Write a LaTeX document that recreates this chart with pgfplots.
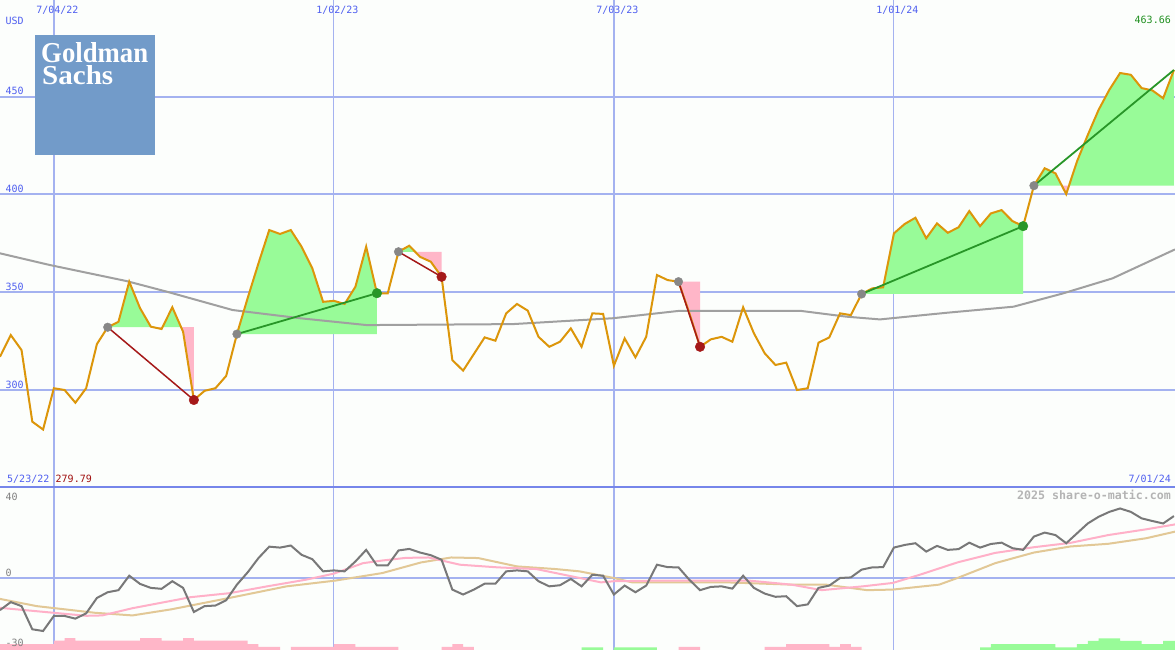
\documentclass[border=0pt]{standalone}
\usepackage{graphicx}
\usepackage{fontspec}
\setmainfont{DejaVu Sans Mono}
\newfontfamily\logofont{Liberation Serif}
\usepackage{pgfplots}
\usepackage{pgfplotstable}
\pgfplotsset{compat=1.18}
\usepgfplotslibrary{fillbetween}
\newcommand\lab{\fontsize{10bp}{12bp}\selectfont}
\definecolor{bgcol}{RGB}{252,254,252}
\definecolor{gridblue}{RGB}{164,178,240}
\definecolor{sepblue}{RGB}{118,134,234}
\definecolor{labblue}{RGB}{80,96,240}
\definecolor{orangec}{RGB}{220,150,10}
\definecolor{magray}{RGB}{160,160,160}
\definecolor{tgreen}{RGB}{152,251,152}
\definecolor{tpink}{RGB}{255,182,200}
\definecolor{dkgreen}{RGB}{40,150,40}
\definecolor{dkred}{RGB}{165,25,25}
\definecolor{dotgray}{RGB}{135,135,135}
\definecolor{oscgray}{RGB}{120,120,120}
\definecolor{oscpink}{RGB}{255,176,200}
\definecolor{osctan}{RGB}{226,200,150}
\definecolor{tickgray}{RGB}{128,128,128}
\definecolor{wmgray}{RGB}{180,180,180}
\definecolor{logoblue}{RGB}{114,155,201}
\definecolor{txtgreen}{RGB}{32,144,32}
\definecolor{txtred}{RGB}{160,16,16}

\pgfplotstableread{
i p
0 317.0
1 328.1
2 320.4
3 283.8
4 279.79
5 300.9
6 300.0
7 293.5
8 300.9
9 323.5
10 332.1
11 334.9
12 355.4
13 341.9
14 332.4
15 331.2
16 342.3
17 329.8
18 294.9
19 299.6
20 300.9
21 307.2
22 328.6
23 347.1
24 364.8
25 381.8
26 379.8
27 381.8
28 373.3
29 362.2
30 345.1
31 345.6
32 344.0
33 352.8
34 373.3
35 349.5
36 349.4
37 370.7
38 373.8
39 368.1
40 365.6
41 357.9
42 315.3
43 309.9
44 318.4
45 326.9
46 325.2
47 339.2
48 344.0
49 340.6
50 327.2
51 322.1
52 324.7
53 331.5
54 322.1
55 339.2
56 338.9
57 312.4
58 326.4
59 316.7
60 327.2
61 358.8
62 356.2
63 355.4
64 339.4
65 322.1
66 325.9
67 327.2
68 324.7
69 342.3
70 329.0
71 318.8
72 312.8
73 314.0
74 300.0
75 300.9
76 324.2
77 326.9
78 339.2
79 338.3
80 349.1
81 352.0
82 352.5
83 380.1
84 384.9
85 388.1
86 377.6
87 385.2
88 380.4
89 383.2
90 391.5
91 383.8
92 390.3
93 392.0
94 386.4
95 383.8
96 404.5
97 413.4
98 410.8
99 400.2
100 416.9
101 430.4
102 443.2
103 453.5
104 462.1
105 461.2
106 454.4
107 453.2
108 449.2
109 463.66
}\pricetab

\pgfplotstableread{
i v
0 -16.9
1 -12.7
2 -14.8
3 -27.0
4 -27.9
5 -20.0
6 -20.0
7 -21.4
8 -18.6
9 -10.5
10 -7.5
11 -6.4
12 1.2
13 -3.1
14 -5.2
15 -5.7
16 -1.7
17 -5.2
18 -17.9
19 -14.8
20 -14.5
21 -11.7
22 -3.5
23 3.0
24 10.5
25 16.5
26 16.0
27 17.1
28 12.2
29 9.9
30 3.5
31 4.0
32 3.5
33 8.7
34 14.8
35 6.6
36 6.6
37 14.5
38 15.3
39 13.4
40 12.0
41 9.6
42 -6.1
43 -8.7
44 -6.1
45 -3.0
46 -3.0
47 3.5
48 4.0
49 3.5
50 -1.7
51 -4.4
52 -3.8
53 -0.5
54 -4.4
55 1.7
56 1.2
57 -8.7
58 -4.0
59 -7.5
60 -4.0
61 7.0
62 5.7
63 5.6
64 -0.9
65 -6.4
66 -4.7
67 -4.4
68 -5.6
69 1.2
70 -5.2
71 -8.2
72 -9.9
73 -9.6
74 -14.8
75 -13.9
76 -5.2
77 -4.0
78 0.0
79 0.3
80 4.4
81 5.6
82 5.7
83 16.0
84 17.4
85 18.3
86 13.9
87 16.9
88 14.8
89 15.2
90 18.6
91 16.0
92 17.9
93 18.6
94 15.7
95 14.8
96 21.8
97 23.9
98 22.6
99 18.3
100 23.5
101 28.7
102 32.2
103 34.8
104 36.6
105 34.8
106 31.4
107 30.0
108 28.7
109 32.6
}\osctab

\pgfplotsset{
  panel/.style={
    set layers,
    scale only axis, width=1175bp,
    xmin=0, xmax=109.1,
    axis background/.style={fill=bgcol},
    axis line style={draw=none}, tick style={draw=none},
    xtick={5,31,57,83},
    major grid style={gridblue, line width=2bp},
  }
}
% vertical date lines (decoration), drawn on the grid layer
\newcommand\vlines[2]{%
  \begin{pgfonlayer}{axis grid}
  \draw[gridblue, line width=2bp] (axis cs:5,#1) -- (axis cs:5,#2);
  \draw[gridblue, line width=2bp] (axis cs:57,#1) -- (axis cs:57,#2);
  \draw[gridblue, line width=1bp] (axis cs:31,#1) -- (axis cs:31,#2);
  \draw[gridblue, line width=1bp] (axis cs:83,#1) -- (axis cs:83,#2);
  \end{pgfonlayer}}

\begin{document}
\begin{tikzpicture}

% ---------------- lower panel ----------------
\begin{axis}[panel,
  at={(0,0)}, anchor=south west, height=163bp,
  ymin=-37.9, ymax=47.9,
  xticklabels={},
  xticklabel style={inner sep=0pt},
  ytick={0}, yticklabels={0}, ymajorgrids,
  extra y ticks={40}, extra y tick labels={40}, extra y tick style={grid=none},
  yticklabel style={anchor=base west, inner sep=0pt, xshift=5.5bp, yshift=1.5bp, text=tickgray, font=\lab},
]
\vlines{-37.9}{47.9}
\addplot[fill=tpink, draw=none] coordinates {
(0,-40) (0,-34.75) (5,-34.75) (5,-33.0) (6,-33.0) (6,-31.6) (7,-31.6) (7,-33.0)
(13,-33.0) (13,-31.6) (15,-31.6) (15,-33.0) (17,-33.0) (17,-31.6) (18,-31.6) (18,-33.0)
(23,-33.0) (23,-34.75) (24,-34.75) (24,-36.3) (26,-36.3) (26,-40) (27,-40) (27,-36.3)
(31,-36.3) (31,-34.75) (33,-34.75) (33,-36.3) (37,-36.3) (37,-40) (41,-40) (41,-36.3)
(42,-36.3) (42,-34.75) (43,-34.75) (43,-36.3) (44,-36.3) (44,-40) (63,-40) (63,-36.3)
(65,-36.3) (65,-40) (71,-40) (71,-36.3) (73,-36.3) (73,-34.75) (77,-34.75) (77,-36.3)
(78,-36.3) (78,-34.75) (79,-34.75) (79,-36.3) (80,-36.3) (80,-40)};
\addplot[fill=tgreen, draw=none] coordinates {
(54,-40) (54,-36.5) (56,-36.5) (56,-40) (57,-40) (57,-36.5) (61,-36.5) (61,-40)
(91,-40) (91,-36.5) (92,-36.5) (92,-34.75) (98,-34.75) (98,-36.5) (100,-36.5) (100,-34.75)
(101,-34.75) (101,-33.1) (102,-33.1) (102,-31.8) (104,-31.8) (104,-33.1) (106,-33.1)
(106,-34.75) (108,-34.75) (108,-33.1) (109.2,-33.1) (109.2,-40)};
\addplot[osctan, line width=2bp] coordinates {
(0,-11.0) (3.4,-14.8) (8.8,-18.3) (12.3,-19.7) (15.9,-16.5) (21.3,-10.5) (26.6,-4.4)
(31.1,-1.4) (35.5,2.6) (39.1,8.2) (41.9,10.8) (44.4,10.5) (48.0,6.1) (51.6,4.7)
(53.8,3.5) (57,0) (58.7,-2.3) (67.5,-2.3) (73.5,-3.5) (76.7,-3.5) (80.5,-6.4)
(82.9,-6.1) (87.2,-3.5) (88.9,0) (92.4,7.8) (96,13.4) (99.4,16.6) (102.9,18.0)
(106.4,20.9) (109.1,24.4)};
\addplot[oscpink, line width=2bp] coordinates {
(0,-15.7) (4,-17.8) (8,-19.9) (9.5,-19.7) (12.3,-15.9) (17.7,-10.1) (21.3,-8.0)
(24.8,-4.4) (28.4,-0.9) (31,2.3) (33.7,7.8) (35.5,9.2) (37.7,10.6) (39.8,10.8)
(42.7,7.0) (46.2,5.6) (49.8,4.7) (53.4,0.5) (55.8,-2.3) (57,-1.7) (60.8,-1.4)
(69.6,-1.4) (73.5,-3.5) (76.3,-6.4) (80.1,-4.4) (82.9,-2.6) (85.4,1.7) (88.9,8.2)
(92.4,13.2) (96,16.2) (99.4,18.5) (102.9,22.6) (106.4,25.6) (109.1,28.2)};
\addplot[oscgray, line width=2bp] table[x=i, y=v] {\osctab};
\node[anchor=base west, inner sep=0pt, text=tickgray, font=\lab] at (rel axis cs:0,0) [xshift=5.5bp, yshift=4bp] {-30};
\end{axis}

% ---------------- upper panel ----------------
\begin{axis}[panel,
  at={(0,163bp)}, anchor=south west, height=487bp,
  ymin=250.4, ymax=499.45,
  xticklabels={7/04/22,1/02/23,7/03/23,1/01/24},
  xticklabel pos=upper,
  xticklabel style={anchor=base, inner sep=0pt, yshift=-13.3bp, xshift=3.5bp, text=labblue, font=\lab},
  ymajorgrids,
  ytick={300,350,400,450}, yticklabels={300,350,400,450},
  yticklabel style={anchor=base west, inner sep=0pt, xshift=5.5bp, yshift=1.7bp, text=labblue, font=\lab},
]
\vlines{250.4}{499.45}
\addplot[draw=none, name path=price] table[x=i, y=p] {\pricetab};
\addplot[draw=none, name path=L1] coordinates {(10,332.1) (18,332.1)};
\addplot[draw=none, name path=L2] coordinates {(22,328.6) (35,328.6)};
\addplot[draw=none, name path=L3] coordinates {(37,370.7) (41,370.7)};
\addplot[draw=none, name path=L4] coordinates {(63,355.4) (65,355.4)};
\addplot[draw=none, name path=L5] coordinates {(80,349.1) (95,349.1)};
\addplot[draw=none, name path=L6] coordinates {(96,404.5) (109,404.5)};
% gains
\addplot[fill=tgreen, draw=none] fill between[of=price and L1, soft clip={domain=10:14.25}];
\addplot[fill=tgreen, draw=none] fill between[of=price and L1, soft clip={domain=15.08:16.82}];
\addplot[fill=tgreen, draw=none] fill between[of=price and L2, soft clip={domain=22:35}];
\addplot[fill=tgreen, draw=none] fill between[of=price and L3, soft clip={domain=37:38.54}];
\addplot[fill=tgreen, draw=none] fill between[of=price and L5, soft clip={domain=80:95}];
\addplot[fill=tgreen, draw=none] fill between[of=price and L6, soft clip={domain=96:98.59}];
\addplot[fill=tgreen, draw=none] fill between[of=price and L6, soft clip={domain=99.26:109}];
% losses
\addplot[fill=tpink, draw=none] fill between[of=price and L1, soft clip={domain=14.25:15.08}];
\addplot[fill=tpink, draw=none] fill between[of=price and L1, soft clip={domain=16.82:18}];
\addplot[fill=tpink, draw=none] fill between[of=price and L3, soft clip={domain=38.54:41}];
\addplot[fill=tpink, draw=none] fill between[of=price and L4, soft clip={domain=63:65}];
\addplot[fill=tpink, draw=none] fill between[of=price and L6, soft clip={domain=98.59:99.26}];
% moving average
\addplot[magray, line width=2bp] coordinates {
(0,369.9) (4.64,363.9) (11.76,355.7) (15.48,350.3) (21.6,340.9) (27.86,336.7)
(34.05,333.2) (47.6,333.7) (56.9,336.7) (63.1,340.5) (74.3,340.5) (78.6,337.5)
(81.7,336.1) (87.9,339.5) (94.1,342.6) (98.7,349.4) (103.3,357.1) (109.1,371.9)};
% price
\addplot[orangec, line width=2bp] table[x=i, y=p] {\pricetab};
% trades
\addplot[dkred, line width=1.5bp] coordinates {(10,332.1) (18,294.9)};
\addplot[dkgreen, line width=1.8bp] coordinates {(22,328.6) (35,349.5)};
\addplot[dkred, line width=1.5bp] coordinates {(37,370.7) (41,357.9)};
\addplot[dkred, line width=1.5bp] coordinates {(63,355.4) (65,322.1)};
\addplot[dkgreen, line width=1.8bp] coordinates {(80,349.1) (95,383.8)};
\addplot[dkgreen, line width=1.8bp] coordinates {(96,404.5) (109,463.66)};
\addplot[only marks, mark=*, mark size=4.3bp, color=dotgray] coordinates {
(10,332.1) (22,328.6) (37,370.7) (63,355.4) (80,349.1) (96,404.5)};
\addplot[only marks, mark=*, mark size=4.8bp, color=dkred] coordinates {
(18,294.9) (41,357.9) (65,322.1)};
\addplot[only marks, mark=*, mark size=4.8bp, color=dkgreen] coordinates {
(35,349.5) (95,383.8)};
\end{axis}

% separator between the panels
\draw[sepblue, line width=2bp] (0,163bp) -- (1175bp,163bp);

% logo
\fill[logoblue] (35bp,495bp) rectangle (155bp,615bp);
\node[anchor=north west, inner sep=0pt, text=white, align=left] at (41bp,607.5bp)
  {\resizebox{107bp}{20bp}{\logofont\bfseries Goldman}\\[2bp]\hspace*{1bp}\resizebox{71bp}{19bp}{\logofont\bfseries Sachs}};

% texts
\node[anchor=base west, inner sep=0pt, text=labblue, font=\lab] at (5.5bp,625bp) {USD};
\node[anchor=base east, inner sep=0pt, text=txtgreen, font=\lab] at (1171bp,626bp) {463.66};
\node[anchor=base west, inner sep=0pt, text=labblue, font=\lab] at (7bp,167bp) {5/23/22};
\node[anchor=base west, inner sep=0pt, text=txtred, font=\lab] at (55.5bp,167bp) {279.79};
\node[anchor=base east, inner sep=0pt, text=labblue, font=\lab] at (1171bp,167bp) {7/01/24};
\node[anchor=base east, inner sep=0pt, text=wmgray, font=\fontsize{11.6bp}{13bp}\selectfont\bfseries] at (1171bp,150bp) {2025 share-o-matic.com};

\pgfresetboundingbox
\path[use as bounding box] (0,0) rectangle (1175bp,650bp);
\end{tikzpicture}
\end{document}
